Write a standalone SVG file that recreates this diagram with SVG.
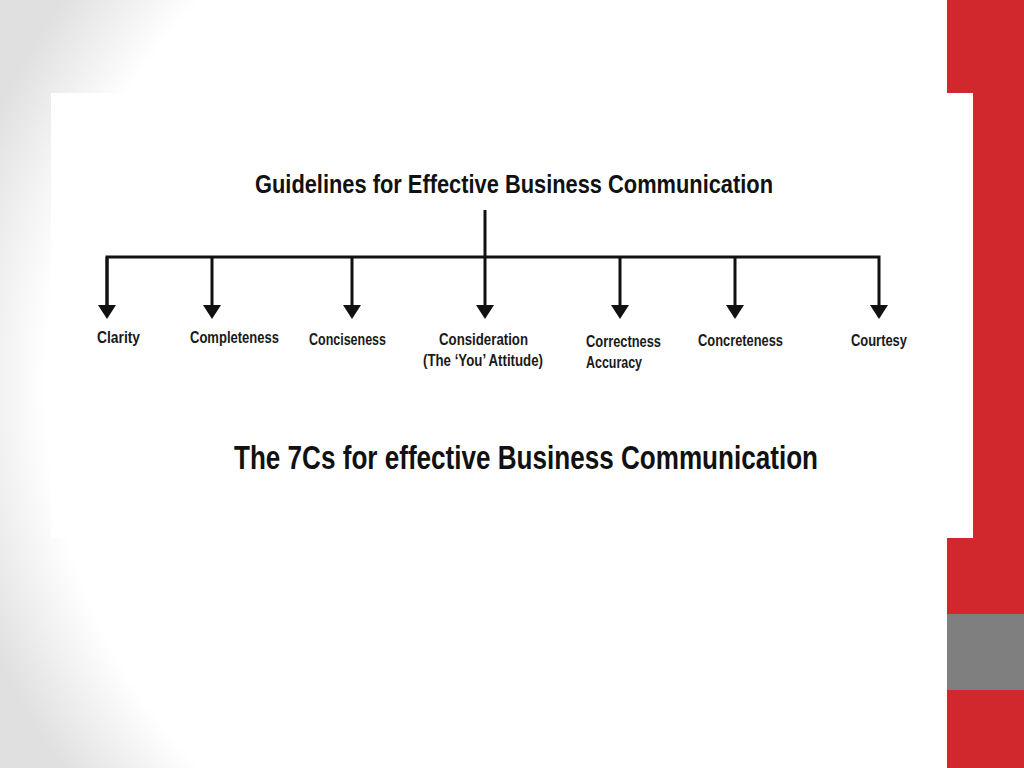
<svg xmlns="http://www.w3.org/2000/svg" width="1024" height="768" viewBox="0 0 1024 768">
<defs>
<radialGradient id="bg" cx="600" cy="384" r="660" gradientUnits="userSpaceOnUse">
<stop offset="0.84" stop-color="#ffffff"/>
<stop offset="1" stop-color="#e0e0e0"/>
</radialGradient>
<marker id="arr" viewBox="0 0 14 18" refX="0" refY="9" markerWidth="14" markerHeight="18" markerUnits="userSpaceOnUse" orient="auto">
<path d="M0,0 L14,9 L0,18 Z" fill="#111"/>
</marker>
<style>
.ln{stroke:#111;stroke-width:3;fill:none}
.lbl{font-family:"Liberation Sans",Arial,sans-serif;font-weight:bold;font-size:16px;fill:#1a1a1a}
.ttl{font-family:"Liberation Sans",Arial,sans-serif;font-weight:bold;fill:#111}
</style>
</defs>
<rect width="1024" height="768" fill="url(#bg)"/>
<rect x="947" y="0" width="77" height="768" fill="#d1282e"/>
<rect x="947" y="614" width="77" height="76" fill="#7f7f7f"/>
<rect x="51" y="93" width="922" height="445" fill="#ffffff"/>
<g id="title"><text class="ttl" x="255" y="193" font-size="25" textLength="518" lengthAdjust="spacingAndGlyphs">Guidelines for Effective Business Communication</text></g>
<g id="connectors">
<line class="ln" x1="485" y1="210" x2="485" y2="257"/>
<polyline class="ln" points="107,305 107,257 879,257 879,305" marker-end="url(#arr)"/>
<line class="ln" x1="107" y1="257" x2="107" y2="305" marker-end="url(#arr)"/>
<line class="ln" x1="212" y1="257" x2="212" y2="305" marker-end="url(#arr)"/>
<line class="ln" x1="352" y1="257" x2="352" y2="305" marker-end="url(#arr)"/>
<line class="ln" x1="485" y1="257" x2="485" y2="305" marker-end="url(#arr)"/>
<line class="ln" x1="620" y1="257" x2="620" y2="305" marker-end="url(#arr)"/>
<line class="ln" x1="735" y1="257" x2="735" y2="305" marker-end="url(#arr)"/>
</g>
<g id="clarity"><text class="lbl" x="97" y="343" textLength="43" lengthAdjust="spacingAndGlyphs">Clarity</text></g>
<g id="completeness"><text class="lbl" x="190" y="343" textLength="89" lengthAdjust="spacingAndGlyphs">Completeness</text></g>
<g id="conciseness"><text class="lbl" x="309" y="345" textLength="77" lengthAdjust="spacingAndGlyphs">Conciseness</text></g>
<g id="consideration"><text class="lbl" x="439" y="345" textLength="89" lengthAdjust="spacingAndGlyphs">Consideration</text><text class="lbl" x="423" y="366" textLength="120" lengthAdjust="spacingAndGlyphs">(The ‘You’ Attitude)</text></g>
<g id="correctness"><text class="lbl" x="586" y="347" textLength="75" lengthAdjust="spacingAndGlyphs">Correctness</text><text class="lbl" x="586" y="368" textLength="56" lengthAdjust="spacingAndGlyphs">Accuracy</text></g>
<g id="concreteness"><text class="lbl" x="698" y="346" textLength="85" lengthAdjust="spacingAndGlyphs">Concreteness</text></g>
<g id="courtesy"><text class="lbl" x="851" y="346" textLength="56" lengthAdjust="spacingAndGlyphs">Courtesy</text></g>
<g id="caption"><text class="ttl" x="234" y="469" font-size="33" textLength="584" lengthAdjust="spacingAndGlyphs">The 7Cs for effective Business Communication</text></g>
</svg>
